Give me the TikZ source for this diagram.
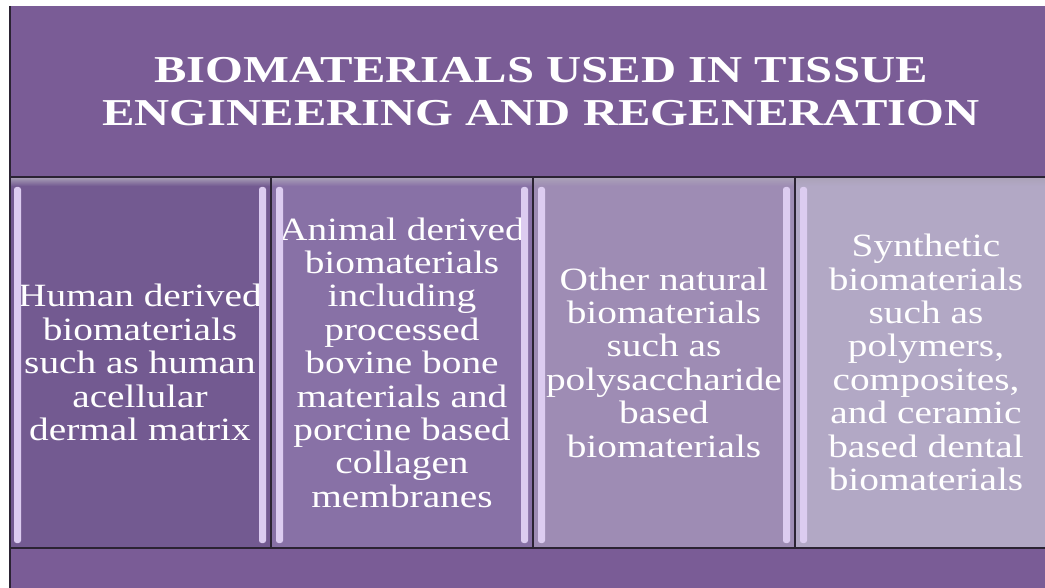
\documentclass[tikz,border=0pt]{standalone}
\usepackage{fontspec}
\setmainfont{Liberation Serif}
\newfontfamily\bodyfont[FakeStretch=1.21]{Liberation Serif}
\newfontfamily\headfont[FakeStretch=1.28]{Liberation Serif}
\usetikzlibrary{positioning}
\definecolor{bandpurple}{HTML}{7A5C96}
\definecolor{colA}{HTML}{735A91}
\definecolor{colB}{HTML}{8871A6}
\definecolor{colC}{HTML}{9E8CB4}
\definecolor{colD}{HTML}{B2A8C5}
\definecolor{divline}{HTML}{2B2333}
\definecolor{bevelgrey}{HTML}{ABA2B8}
\definecolor{barlilac}{HTML}{DCCCF0}
\tikzset{
    band/.style={rectangle, fill=bandpurple, inner sep=0pt, outer sep=0pt, anchor=north west},
    heading/.style={text=white, align=center, font=\headfont\bfseries\fontsize{38}{43}\selectfont},
    column/.style={rectangle, inner sep=0pt, outer sep=0pt, minimum width=262pt, minimum height=371pt, text=white, align=center, font=\bodyfont\fontsize{32.5}{33.4}\selectfont},
    divider/.style={draw=divline, line width=1.6pt},
    bar/.style={fill=barlilac, rounded corners=2.5pt},
}

\begin{document}
\begin{tikzpicture}[x=1pt, y=1pt]
    \useasboundingbox (0,0) rectangle (1045,-588);

    % Title band
    \node[band, heading, minimum width=1062pt, minimum height=171pt] (head) at (10,-6)
        {BIOMATERIALS USED IN TISSUE\\ENGINEERING AND REGENERATION};

    % Four columns side by side
    \node[column, fill=colA, anchor=north west] (c1) at (9,-177)
        {Human derived\\biomaterials\\such as human\\acellular\\dermal matrix};
    \node[column, fill=colB, right=0pt of c1] (c2)
        {Animal derived\\biomaterials\\including\\processed\\bovine bone\\materials and\\porcine based\\collagen\\membranes};
    \node[column, fill=colC, right=0pt of c2] (c3)
        {Other natural\\biomaterials\\such as\\polysaccharide\\based\\biomaterials};
    \node[column, fill=colD, right=0pt of c3] (c4)
        {Synthetic\\biomaterials\\such as\\polymers,\\composites,\\and ceramic\\based dental\\biomaterials};

    % Bottom band
    \node[band, minimum width=1040pt, minimum height=42pt] (foot) at (10,-548) {};

    % Bevels on every column
    \foreach \i/\c in {1/colA, 2/colB, 3/colC, 4/colD} {
        \shade[top color=bevelgrey, bottom color=\c] (c\i.north west) rectangle ([yshift=-9pt]c\i.north east);
        \fill[bar] ([xshift=5pt, yshift=-10pt]c\i.north west) rectangle ([xshift=12pt, yshift=5pt]c\i.south west);
        \fill[bar] ([xshift=-12pt, yshift=-10pt]c\i.north east) rectangle ([xshift=-5pt, yshift=5pt]c\i.south east);
    }

    % Dividers
    \draw[divider] (c1.north west) -- (c4.north east);
    \draw[divider] (c1.south west) -- (c4.south east);
    \draw[divider] (c1.north east) -- (c1.south east);
    \draw[divider] (c2.north east) -- (c2.south east);
    \draw[divider] (c3.north east) -- (c3.south east);
    \draw[divider] (head.north west) -- (foot.south west);
\end{tikzpicture}
\end{document}
